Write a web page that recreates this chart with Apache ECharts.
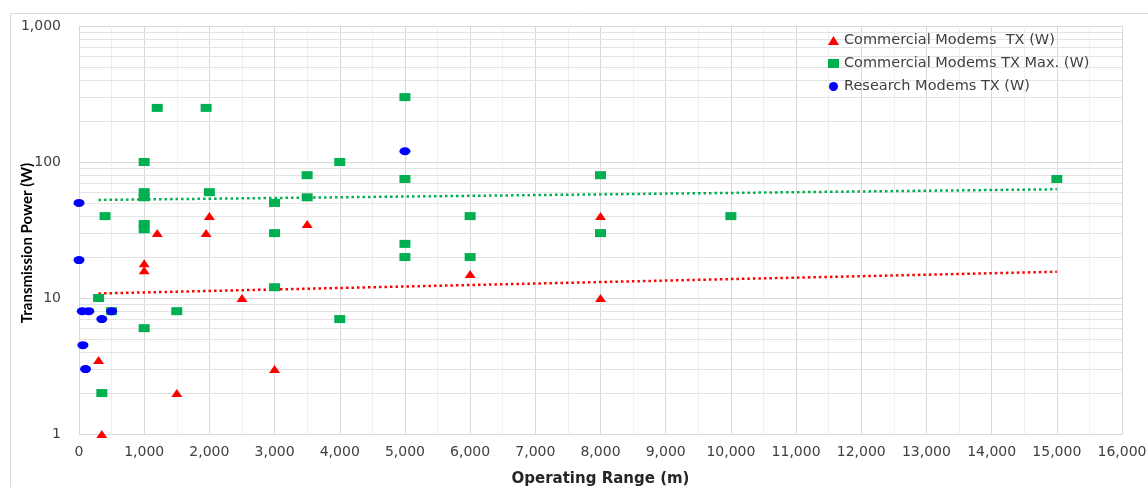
<!DOCTYPE html>
<html>
<head>
<meta charset="utf-8">
<script src="https://cdn.jsdelivr.net/npm/echarts@6/dist/echarts.min.js"></script>
<style>
  html, body { margin: 0; padding: 0; background: #ffffff; }
  #chart { width: 1148px; height: 487px; }
</style>
</head>
<body>
<div id="chart"></div>
<script>
// Commercial modems, nominal transmit power
const commRange = [300, 350, 1000, 1000, 1200, 1500, 1950, 2000, 2500, 3000, 3500, 6000, 8000, 8000];
const commTx    = [3.5, 1,   18,   16,   30,   2,    30,   40,   10,   3,    35,   15,   40,   10];

// Commercial modems, maximum transmit power
const maxRange = [300, 350, 400, 500, 1000, 1000, 1000, 1000, 1000, 1000, 1200, 1500, 1950, 2000,
                  3000, 3000, 3000, 3500, 3500, 4000, 4000, 5000, 5000, 5000, 5000, 6000, 6000,
                  8000, 8000, 10000, 15000];
const maxTx    = [10, 2, 40, 8, 100, 60, 55, 35, 32, 6, 250, 8, 250, 60,
                  50, 30, 12, 80, 55, 100, 7, 300, 75, 25, 20, 40, 20,
                  80, 30, 40, 75];

// Research modems
const resRange = [0, 0, 50, 150, 350, 500, 60, 100, 5000];
const resTx    = [50, 19, 8, 8, 7, 8, 4.5, 3, 120];

// Trend lines (end points)
const trendRange = [300, 15000];
const trendComm  = [10.8, 15.6];
const trendMax   = [52.6, 63];

// Axis ticks
const xTicks = { min: 0, max: 16000, step: 1000 };
const yTicks = { min: 1, max: 1000 };

const pairs = (xs, ys) => xs.map((x, i) => [x, ys[i]]);

// Log minor grid lines: 2..9 within every decade
const minorLevels = [];
for (let d = 1; d < yTicks.max; d *= 10) {
  for (let k = 2; k <= 9; k++) minorLevels.push(k * d);
}

const fmt = v => Number(v).toLocaleString('en-US');

const RED = '#ff0000', GREEN = '#00b050', BLUE = '#0000ff';
const LABEL = '#404040';

const chart = echarts.init(document.getElementById('chart'), null, { renderer: 'canvas' });

chart.setOption({
  animation: false,
  backgroundColor: '#ffffff',
  textStyle: { fontFamily: 'DejaVu Sans' },
  graphic: [{
    type: 'rect',
    left: 8, top: 11,
    shape: { width: 1200, height: 600 },
    style: { fill: 'none', stroke: '#d9d9d9', lineWidth: 1 },
    silent: true,
    z: -10
  }],
  grid: { left: 79, right: 26, top: 26, bottom: 53, containLabel: false, outerBoundsMode: 'none' },
  legend: {
    orient: 'vertical',
    left: 823,
    top: 28,
    itemGap: 8,
    itemWidth: 11,
    itemHeight: 9,
    textStyle: { fontFamily: 'DejaVu Sans', fontSize: 14.5, color: LABEL },
    data: [
      { name: 'Commercial Modems  TX (W)', icon: 'triangle' },
      { name: 'Commercial Modems TX Max. (W)', icon: 'rect' },
      { name: 'Research Modems TX (W)', icon: 'circle' }
    ]
  },
  xAxis: {
    type: 'value',
    min: xTicks.min,
    max: xTicks.max,
    interval: xTicks.step,
    name: 'Operating Range (m)',
    nameLocation: 'middle',
    nameGap: 38,
    nameTextStyle: { fontFamily: 'DejaVu Sans', fontWeight: 'bold', fontSize: 15, color: '#262626' },
    axisLine: { show: true, lineStyle: { color: '#d9d9d9', width: 1 } },
    axisTick: { show: false },
    axisLabel: { formatter: fmt, fontSize: 14, color: LABEL, margin: 11, fontFamily: 'DejaVu Sans' },
    splitLine: { show: true, lineStyle: { color: '#d9d9d9', width: 1 } },
    minorTick: { show: false, splitNumber: 2 },
    minorSplitLine: { show: true, lineStyle: { color: '#f0f0f0', width: 1 } }
  },
  yAxis: {
    type: 'log',
    logBase: 10,
    min: yTicks.min,
    max: yTicks.max,
    name: 'Transmission Power (W)',
    nameLocation: 'middle',
    nameRotate: 90,
    nameGap: 44,
    nameMoveOverlap: false,
    nameTextStyle: { fontFamily: 'Lato', fontWeight: 'bold', fontSize: 15, color: '#000000', padding: [0, 26, 0, 0] },
    axisLine: { show: true, lineStyle: { color: '#d9d9d9', width: 1 } },
    axisTick: { show: false },
    axisLabel: { formatter: fmt, fontSize: 14, color: LABEL, margin: 18, fontFamily: 'DejaVu Sans' },
    splitLine: { show: true, lineStyle: { color: '#d9d9d9', width: 1 } }
  },
  series: [
    {
      // minor horizontal grid for the log scale
      name: 'grid-minor',
      type: 'line',
      data: [],
      silent: true,
      z: 0,
      markLine: {
        z: 0,
        silent: true,
        symbol: 'none',
        label: { show: false },
        emphasis: { disabled: true },
        lineStyle: { color: '#e3e3e3', width: 1, type: 'solid' },
        data: minorLevels.map(v => ({ yAxis: v }))
      }
    },
    {
      name: 'trend-comm',
      type: 'line',
      data: pairs(trendRange, trendComm),
      showSymbol: false,
      symbol: 'none',
      silent: true,
      z: 1,
      lineStyle: { color: RED, width: 2.5, type: [2.5, 3], cap: 'butt' }
    },
    {
      name: 'trend-max',
      type: 'line',
      data: pairs(trendRange, trendMax),
      showSymbol: false,
      symbol: 'none',
      silent: true,
      z: 1,
      lineStyle: { color: GREEN, width: 2.5, type: [2.5, 3], cap: 'butt' }
    },
    {
      name: 'Commercial Modems  TX (W)',
      type: 'scatter',
      symbol: 'triangle',
      symbolSize: [11, 8],
      itemStyle: { color: RED, opacity: 1 },
      data: pairs(commRange, commTx),
      z: 3
    },
    {
      name: 'Commercial Modems TX Max. (W)',
      type: 'scatter',
      symbol: 'rect',
      symbolSize: [11, 8],
      itemStyle: { color: GREEN, opacity: 1 },
      data: pairs(maxRange, maxTx),
      z: 4
    },
    {
      name: 'Research Modems TX (W)',
      type: 'scatter',
      symbol: 'circle',
      symbolSize: [11, 8],
      itemStyle: { color: BLUE, opacity: 1 },
      data: pairs(resRange, resTx),
      z: 5
    }
  ]
});
</script>
</body>
</html>
